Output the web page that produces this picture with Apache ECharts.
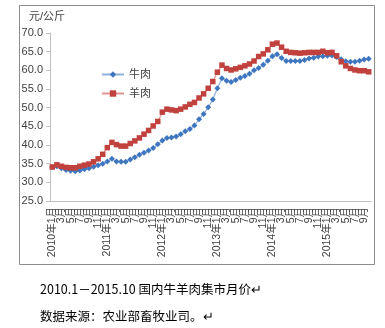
<!DOCTYPE html>
<html><head><meta charset="utf-8">
<script src="https://cdn.jsdelivr.net/npm/echarts@6/dist/echarts.min.js"></script>
<style>html,body{margin:0;padding:0;background:#fff;}#c{width:385px;height:328px;}</style>
</head><body><div id="c"></div>
<script>
const years = [2010, 2011, 2012, 2013, 2014, 2015];
const yTicks = [25, 30, 35, 40, 45, 50, 55, 60, 65, 70];
const unitLabel = '元/公斤';
const seriesNames = ['牛肉', '羊肉'];
const beef = [34.1,34.3,33.8,33.3,33.1,33.0,33.2,33.5,33.8,34.2,34.6,35.0,
  35.6,36.3,35.6,35.5,35.5,36.1,36.7,37.4,37.9,38.5,39.2,40.2,
  41.2,41.9,42.0,42.3,42.9,43.7,44.3,45.2,46.9,48.3,50.1,52.2,
  55.2,57.9,57.2,56.9,57.4,58.0,58.5,59.1,60.0,60.6,61.5,62.6,
  63.8,64.3,63.3,62.5,62.5,62.5,62.5,62.8,63.2,63.4,63.7,63.8,
  63.9,64.0,63.6,63.0,62.4,62.3,62.3,62.6,62.9,63.1];
const mutton = [34.1,34.7,34.3,34.0,33.9,33.9,34.3,34.6,34.9,35.5,36.3,37.5,
  39.3,40.7,40.1,39.7,39.7,40.4,41.1,41.9,42.9,43.9,45.1,46.3,
  48.8,49.6,49.4,49.2,49.6,50.2,50.9,51.4,52.6,53.7,55.2,57.0,
  59.5,61.4,60.5,60.1,60.4,60.8,61.2,61.7,62.5,63.7,64.4,65.5,
  67.0,67.3,66.2,65.1,64.8,64.7,64.6,64.7,64.8,64.8,64.8,65.1,
  64.7,64.8,63.9,62.3,61.2,60.5,60.1,59.9,59.9,59.6];
const caption1 = '2010.1－2015.10 国内牛羊肉集市月价↵';
const caption2 = '数据来源：农业部畜牧业司。↵';

const categories = [];
years.forEach(y => {
  for (let m = 1; m <= 12; m++) {
    if (y === 2015 && m > 10) break;
    categories.push(m === 1 ? y + '年' + m + '月' : m + '月');
  }
});

const FONT = '"Liberation Sans", "Noto Sans CJK SC", sans-serif';
const chart = echarts.init(document.getElementById('c'), null, {renderer: 'canvas'});
chart.setOption({
  animation: false,
  textStyle: {fontFamily: FONT},
  grid: {left: 50, right: 14, top: 33, bottom: 127, containLabel: false},
  legend: {
    orient: 'vertical', left: 96, top: 64, itemGap: 8,
    itemWidth: 22, itemHeight: 8,
    textStyle: {fontSize: 11, color: '#404040', fontFamily: FONT},
    data: seriesNames
  },
  graphic: [
    {type: 'rect', shape: {x: 19.5, y: 5.5, width: 355, height: 259}, style: {fill: 'none', stroke: '#8c8c8c', lineWidth: 1}, silent: true, z: -1},
    {type: 'text', left: 29, top: 11, style: {text: unitLabel, fontSize: 11, fill: '#404040', fontFamily: FONT}},
    {type: 'text', left: 40, top: 283, style: {text: caption1, fontSize: 12.5, fill: '#000', fontFamily: '"Noto Sans CJK SC", sans-serif'}},
    {type: 'text', left: 40, top: 310, style: {text: caption2, fontSize: 12.5, fill: '#000', fontFamily: '"Noto Sans CJK SC", sans-serif'}}
  ],
  xAxis: {
    type: 'category', data: categories, boundaryGap: true,
    axisLine: {lineStyle: {color: '#bfbfbf'}},
    axisTick: {interval: 0, length: 4, lineStyle: {color: '#bfbfbf'}},
    axisLabel: {interval: 0, rotate: 90, fontSize: 10.5, color: '#404040', margin: 6,
      formatter: (v, i) => (i % 2 === 0 ? v : ''),
      hideOverlap: false, fontFamily: FONT},
    splitLine: {show: false}
  },
  yAxis: {
    type: 'value', min: yTicks[0], max: yTicks[yTicks.length - 1], interval: 5,
    axisLine: {show: true, lineStyle: {color: '#bfbfbf'}},
    axisTick: {show: true, length: 4, lineStyle: {color: '#bfbfbf'}},
    axisLabel: {fontSize: 11, color: '#404040', margin: 7, formatter: v => v.toFixed(1), fontFamily: FONT},
    splitLine: {show: false}
  },
  series: [
    {name: seriesNames[0], type: 'line', data: beef, symbol: 'diamond', symbolSize: 6, showAllSymbol: true,
     itemStyle: {color: '#3f76c0'}, lineStyle: {color: '#8fb0dc', width: 1.2}},
    {name: seriesNames[1], type: 'line', data: mutton, symbol: 'rect', symbolSize: 5.5, showAllSymbol: true,
     itemStyle: {color: '#c0413d'}, lineStyle: {color: '#dc9592', width: 1.2}}
  ]
});
</script></body></html>
